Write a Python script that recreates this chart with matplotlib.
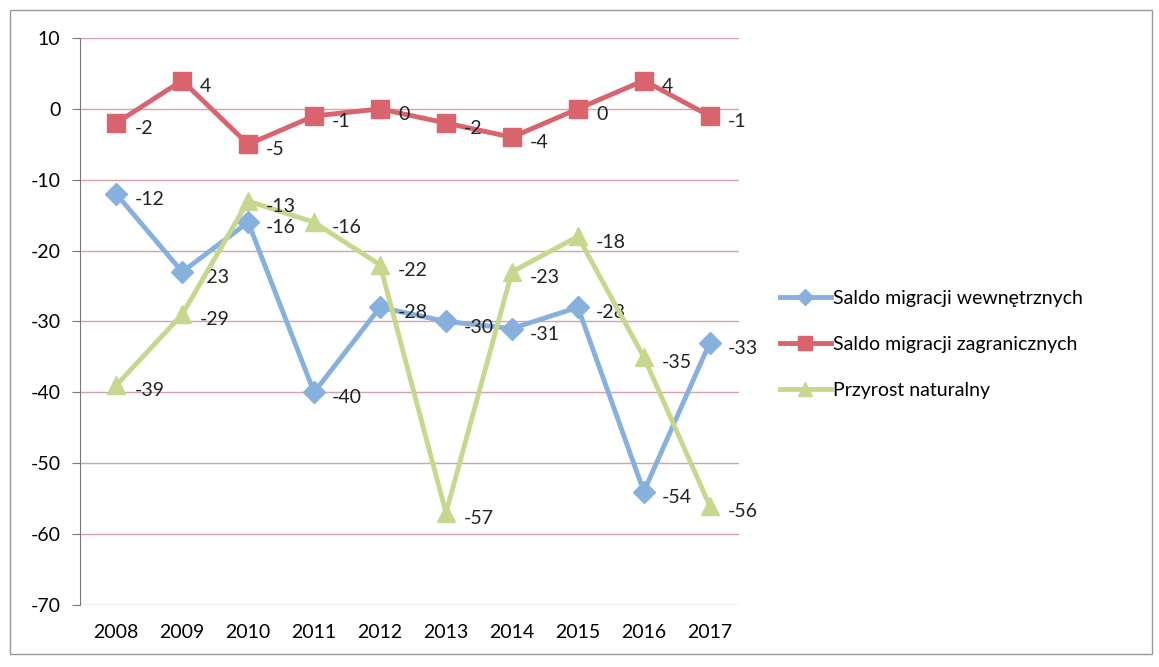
import matplotlib.pyplot as plt
from matplotlib.patches import Rectangle

years = ['2008', '2009', '2010', '2011', '2012', '2013', '2014', '2015', '2016', '2017']
wewnetrzne = [-12, -23, -16, -40, -28, -30, -31, -28, -54, -33]
zagraniczne = [-2, 4, -5, -1, 0, -2, -4, 0, 4, -1]
przyrost = [-39, -29, -13, -16, -22, -57, -23, -18, -35, -56]

series = [
    ('Saldo migracji wewnętrznych', wewnetrzne, '#86b0de', 'D', 11),
    ('Saldo migracji zagranicznych', zagraniczne, '#d9646e', 's', 13),
    ('Przyrost naturalny', przyrost, '#c5d88e', '^', 13),
]

plt.rcParams['font.family'] = ['Lato', 'DejaVu Sans']
plt.rcParams['axes.unicode_minus'] = False

fig = plt.figure(figsize=(11.59, 6.67), dpi=100)
ax = fig.add_axes([0.069, 0.093, 0.569, 0.85])

x = list(range(len(years)))
for name, vals, color, marker, ms in series:
    ax.plot(x, vals, color=color, lw=3.5, marker=marker, markersize=ms,
            label=name, zorder=3)
    for xi, v in zip(x, vals):
        ax.annotate(str(v), (xi, v), xytext=(13, -4), textcoords='offset points',
                    fontsize=14, color='#222222', va='center', ha='left')

ax.set_xlim(-0.55, 9.45)
ax.set_ylim(-70, 10)
ax.set_yticks(range(-70, 11, 10))
ax.set_xticks(x)
ax.set_xticklabels(years)
ax.yaxis.grid(True, color='#d8a0a8', lw=1)
ax.set_axisbelow(True)
for s in ['top', 'right', 'bottom']:
    ax.spines[s].set_visible(False)
ax.spines['left'].set_color('#777777')
ax.tick_params(axis='y', length=6, color='#777777', labelsize=14, pad=8)
ax.tick_params(axis='x', length=0, labelsize=14, pad=14)

ax.legend(loc='center left', bbox_to_anchor=(1.035, 0.46), frameon=False,
          fontsize=14, handlelength=2.6, handletextpad=0.1, labelspacing=1.5,
          markerscale=0.75)

fig.patches.append(Rectangle((0.009, 0.02), 0.985, 0.965, transform=fig.transFigure,
                             fill=False, edgecolor='#999999', lw=1))

fig.savefig('out.png', dpi=100)
